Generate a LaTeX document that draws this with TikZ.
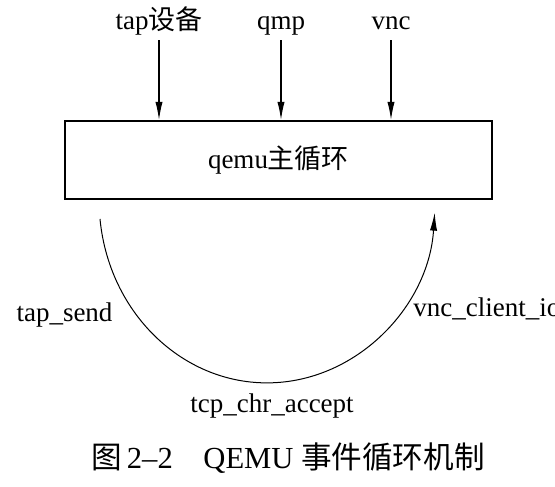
\documentclass[tikz,border=0pt]{standalone}
\usepackage{fontspec}
\setmainfont{Liberation Serif}
\newfontfamily\cjk{Noto Sans CJK SC}
\usetikzlibrary{arrows.meta,positioning}
\tikzset{
  feed/.style={-{Latex[length=9pt,width=3.6pt]}, line width=0.55pt},
  srclabel/.style={anchor=base, inner sep=1.6pt, text depth=0.25em},
}

\begin{document}
\begin{tikzpicture}[x=0.5pt, y=0.5pt]
    \fontsize{13.5pt}{16pt}\selectfont
    \useasboundingbox (0,0) rectangle (555,486);

    %  main loop box
    \node [draw, line width=1.1pt, minimum width=213.5pt, minimum height=39pt,
      inner sep=0pt] (loop) at (278.5, 326) {qemu{\cjk 主循环}};

    %  event sources on top
    \node [srclabel] (tap) at (159, 456) {tap{\cjk 设备}};
    \node [srclabel] (qmp) at (281, 456) {qmp};
    \node [srclabel] (vnc) at (391, 456) {vnc};
    \draw [feed] (tap.south) -- (tap.south |- loop.north);
    \draw [feed] (qmp.south) -- (qmp.south |- loop.north);
    \draw [feed] (vnc.south) -- (vnc.south |- loop.north);

    %  callback arc below the box
    \coordinate (arcstart) at (100, 267);
    \draw [feed, line width=0.5pt] (arcstart)
      arc [start angle=186, end angle=356, x radius=168, y radius=183];

    \node [anchor=base] (tapsend) at (64.5, 164) {tap\_send};
    \node [anchor=base west, inner sep=0pt] (vncio) at (413, 169) {vnc\_client\_io};
    \node [anchor=base] (tcpacc) at (272, 74) {tcp\_chr\_accept};

    %  caption
    \node [anchor=base] (caption) at (288, 18) {\fontsize{15.3pt}{18pt}\selectfont
      {\cjk 图}\,2--2\quad QEMU {\cjk 事件循环机制}};
\end{tikzpicture}
\end{document}
